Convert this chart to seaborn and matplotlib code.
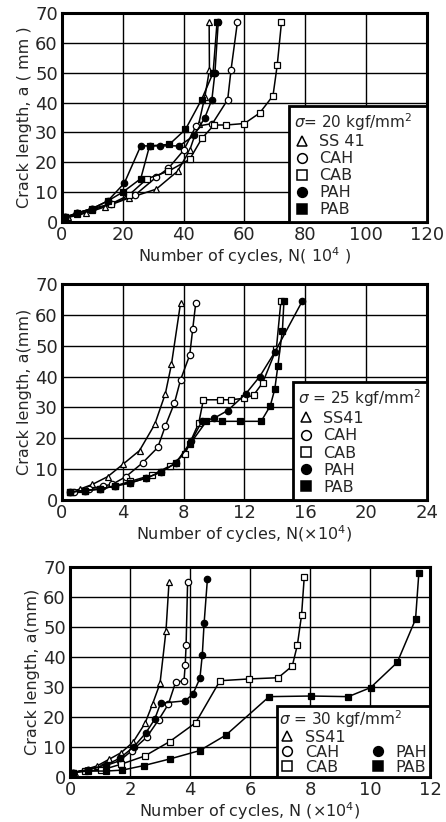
import pandas as pd
import seaborn as sns
import matplotlib.pyplot as plt
from matplotlib.lines import Line2D
from matplotlib.ticker import MultipleLocator

# --- data (N in 10^4 cycles, a in mm) ---
steels = ['SS41', 'CAH', 'CAB', 'PAH', 'PAB']

# sigma = 20 kgf/mm2
s20_ss41_n = [2, 8, 14, 22, 31, 38, 42, 45, 47, 48.5, 48.4]
s20_ss41_a = [1.5, 3, 5, 8, 11, 17, 24, 33, 42, 51, 67]
s20_cah_n = [1, 5, 10, 16, 24, 31, 35, 40, 44, 49.5, 54.5, 55.6, 57.7]
s20_cah_a = [1.5, 3, 4.5, 6, 9, 15, 18, 24, 32, 33, 41, 51, 67]
s20_cab_n = [1, 5, 10, 16, 22, 28, 35, 42, 46, 50, 54, 60, 65, 69.4, 70.8, 72.2]
s20_cab_a = [1.5, 2.5, 4, 6, 9, 14.5, 17, 21, 28, 32.5, 32.5, 33, 36.5, 42.3, 52.6, 67]
s20_pah_n = [1, 5, 10, 15, 20.5, 25.9, 28.8, 32.2, 38.6, 43.5, 47, 49.3, 50.3, 51.4]
s20_pah_a = [1.5, 3, 4.5, 7, 13, 25.5, 25.5, 25.5, 25.5, 29, 35, 41, 50, 67]
s20_pab_n = [1, 5, 10, 15, 20, 25.9, 28.8, 35.3, 40.6, 45.9, 49.7, 51]
s20_pab_a = [1.5, 3, 4.5, 7, 10, 14.5, 25.5, 26, 31, 41, 50, 67]

# sigma = 25 kgf/mm2
s25_ss41_n = [0.5, 1.2, 2.0, 3.0, 4.0, 5.1, 6.1, 6.8, 7.2, 7.8]
s25_ss41_a = [2.5, 3.5, 5, 7.5, 11.5, 16, 24.5, 34.5, 44, 64]
s25_cah_n = [0.8, 1.8, 2.7, 3.3, 4.2, 5.3, 6.3, 6.8, 7.4, 7.8, 8.4, 8.6, 8.8]
s25_cah_a = [2.5, 3.5, 4.5, 5, 7.5, 12, 17, 24, 31.5, 39, 47, 55.5, 64]
s25_cab_n = [0.5, 1.5, 2.5, 3.5, 4.5, 5.9, 7.1, 8.1, 9.0, 9.3, 10.4, 11.1, 12.0, 12.6, 13.2, 14.1, 14.4]
s25_cab_a = [2.5, 3, 3.5, 4.5, 6, 8, 11, 15, 25, 32.5, 32.5, 32.5, 33, 34, 38, 49, 64.5]
s25_pah_n = [0.5, 1.5, 2.5, 3.5, 4.5, 5.5, 6.5, 7.5, 8.5, 9.2, 10, 10.9, 12.1, 13.0, 14.0, 15.8]
s25_pah_a = [2.5, 3, 3.5, 4.5, 5.5, 7, 9, 12, 19, 25.5, 26.5, 29, 34.5, 40, 48, 64.5]
s25_pab_n = [0.5, 1.5, 2.5, 3.5, 4.5, 5.5, 6.5, 7.5, 8.4, 9.5, 10.5, 11.7, 13.1, 13.7, 14.0, 14.2, 14.5, 14.6]
s25_pab_a = [2.5, 3, 3.5, 4.5, 5.5, 7, 9, 12, 18, 25.5, 25.5, 25.5, 25.5, 30.5, 36, 43.5, 55, 64.5]

# sigma = 30 kgf/mm2
s30_ss41_n = [0.15, 0.5, 0.9, 1.3, 1.7, 2.1, 2.5, 2.75, 3.0, 3.2, 3.3]
s30_ss41_a = [1.5, 2.5, 3.7, 5.9, 8.1, 11.6, 17.9, 24.3, 31.2, 48.8, 64.9]
s30_cah_n = [0.1, 0.6, 1.1, 1.65, 2.05, 2.55, 2.95, 3.28, 3.52, 3.8, 3.84, 3.87, 3.92]
s30_cah_a = [1.5, 2.5, 3.5, 5.4, 8.7, 13.2, 19, 24.3, 31.6, 32.1, 37.3, 44, 64.9]
s30_cab_n = [0.1, 0.5, 1.04, 1.71, 2.49, 3.32, 4.19, 5.0, 5.98, 6.94, 7.41, 7.58, 7.72, 7.81]
s30_cab_a = [1.5, 2, 2.3, 4.3, 7, 11.8, 18.1, 32.1, 32.7, 33.1, 37, 44, 54, 66.8]
s30_pah_n = [0.1, 0.6, 1.19, 1.65, 2.13, 2.52, 2.82, 3.02, 3.84, 4.1, 4.33, 4.41, 4.47, 4.58]
s30_pah_a = [1.5, 2.5, 4, 6.2, 10.1, 14.6, 19.2, 24.6, 25.4, 27.7, 32.9, 40.7, 51.2, 65.9]
s30_pab_n = [0.1, 0.6, 1.2, 1.74, 2.45, 3.32, 4.32, 5.2, 6.64, 8.03, 9.28, 10.02, 10.91, 11.52, 11.63]
s30_pab_a = [1.5, 2, 2, 2.3, 3.8, 6, 8.8, 14, 26.8, 27, 26.8, 29.8, 38.2, 52.6, 68]

# marker, face colour
MARK = {'SS41': ('^', 'white'), 'CAH': ('o', 'white'), 'CAB': ('s', 'white'),
        'PAH': ('o', 'black'), 'PAB': ('s', 'black')}

sns.set_style('white')
plt.rcParams['font.family'] = ['DejaVu Sans']

fig = plt.figure(figsize=(4.46, 8.22), dpi=100)


def draw_panel(rect, series, xmax, xstep, xlabel, ylabel, sigma, leg_x0, leg_names,
               two_col=False, ss_label='SS41', spacing=0.18, bpad=0.3):
    ax = fig.add_axes(rect)
    for name, (n, a) in series.items():
        mk, fc = MARK[name]
        df = pd.DataFrame({'N': n, 'a': a})
        sns.lineplot(data=df, x='N', y='a', sort=False, estimator=None, ax=ax,
                     color='black', lw=1.1, marker=mk, markersize=4.6,
                     markerfacecolor=fc, markeredgecolor='black', markeredgewidth=0.9,
                     zorder=3)
    ax.set_xlim(0, xmax)
    ax.set_ylim(0, 70)
    ax.xaxis.set_major_locator(MultipleLocator(xstep))
    ax.xaxis.set_minor_locator(MultipleLocator(xstep / 2))
    ax.yaxis.set_major_locator(MultipleLocator(10))
    ax.yaxis.set_minor_locator(MultipleLocator(5))
    ax.grid(True, which='major', color='black', lw=1.0)
    ax.tick_params(which='major', direction='in', length=0, labelsize=13, pad=3)
    ax.tick_params(which='minor', direction='in', length=5, width=1, color='black')
    for sp in ax.spines.values():
        sp.set_linewidth(2.2)
        sp.set_color('black')
    ax.set_xlabel(xlabel, fontsize=11.5, labelpad=1)
    ax.set_ylabel(ylabel, fontsize=11.5, labelpad=2)

    handles = []
    for name in leg_names:
        if name is None:
            handles.append(Line2D([], [], ls='none', marker=None, label=' '))
        else:
            mk, fc = MARK[name]
            handles.append(Line2D([], [], ls='none', marker=mk, markersize=7,
                                  markerfacecolor=fc, markeredgecolor='black',
                                  markeredgewidth=1.1,
                                  label=ss_label if name == 'SS41' else name))
    leg = ax.legend(handles=handles, title=sigma, ncol=2 if two_col else 1,
                    loc='lower left', bbox_to_anchor=(leg_x0, 0, 1 - leg_x0, 0.5),
                    mode='expand', borderaxespad=0, fancybox=False, framealpha=1,
                    edgecolor='black', fontsize=11.5, title_fontsize=11,
                    labelspacing=spacing, handlelength=1.0, handletextpad=0.6,
                    borderpad=bpad, columnspacing=0.6, alignment='left')
    leg.get_frame().set_linewidth(2.0)
    leg.set_zorder(5)
    return ax


draw_panel([0.139, 0.730, 0.818, 0.254],
           {'SS41': (s20_ss41_n, s20_ss41_a), 'CAH': (s20_cah_n, s20_cah_a),
            'CAB': (s20_cab_n, s20_cab_a), 'PAH': (s20_pah_n, s20_pah_a),
            'PAB': (s20_pab_n, s20_pab_a)},
           120, 20, 'Number of cycles, N( 10$^4$ )', 'Crack length, a ( mm )',
           r'$\sigma$= 20 kgf/mm$^2$', 0.622, ['SS41', 'CAH', 'CAB', 'PAH', 'PAB'],
           ss_label='SS 41', spacing=0.12)

draw_panel([0.139, 0.392, 0.818, 0.262],
           {'SS41': (s25_ss41_n, s25_ss41_a), 'CAH': (s25_cah_n, s25_cah_a),
            'CAB': (s25_cab_n, s25_cab_a), 'PAH': (s25_pah_n, s25_pah_a),
            'PAB': (s25_pab_n, s25_pab_a)},
           24, 4, 'Number of cycles, N(×10$^4$)', 'Crack length, a(mm)',
           r'$\sigma$ = 25 kgf/mm$^2$', 0.633, ['SS41', 'CAH', 'CAB', 'PAH', 'PAB'],
           spacing=0.14)

draw_panel([0.157, 0.0547, 0.807, 0.2555],
           {'SS41': (s30_ss41_n, s30_ss41_a), 'CAH': (s30_cah_n, s30_cah_a),
            'CAB': (s30_cab_n, s30_cab_a), 'PAH': (s30_pah_n, s30_pah_a),
            'PAB': (s30_pab_n, s30_pab_a)},
           12, 2, 'Number of cycles, N (×10$^4$)', 'Crack length, a(mm)',
           r'$\sigma$ = 30 kgf/mm$^2$', 0.575, ['SS41', 'CAH', 'CAB', None, 'PAH', 'PAB'],
           two_col=True, spacing=0.0, bpad=0.15)

fig.savefig('out.png', dpi=100)
plt.close(fig)
